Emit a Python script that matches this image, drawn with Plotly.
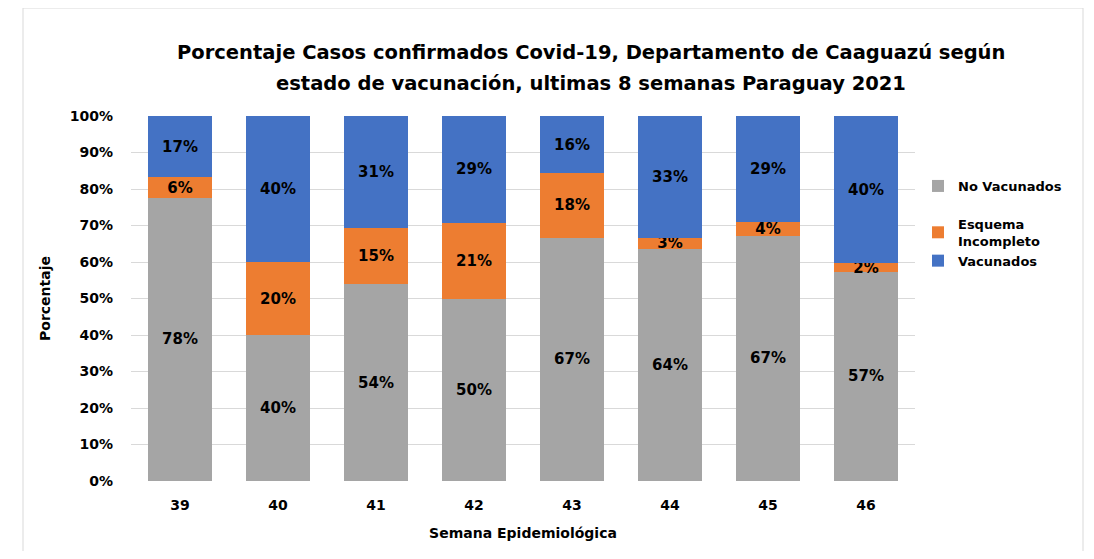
import plotly.graph_objects as go

semanas = ["39", "40", "41", "42", "43", "44", "45", "46"]
no_vacunados = [77.6, 40.0, 53.9, 49.9, 66.7, 63.7, 67.2, 57.3]
esquema_incompleto = [5.6, 20.0, 15.3, 20.8, 17.6, 2.9, 3.7, 2.3]
vacunados = [16.8, 40.0, 30.8, 29.3, 15.7, 33.4, 29.1, 40.4]

titulo_1 = "Porcentaje Casos confirmados Covid-19, Departamento de Caaguazú según"
titulo_2 = "estado de vacunación, ultimas 8 semanas Paraguay 2021"

FONT = "DejaVu Sans"
series = [
    ("No Vacunados", no_vacunados, "#A5A5A5", "g1"),
    ("Esquema<br>Incompleto", esquema_incompleto, "#ED7D31", "g2"),
    ("Vacunados", vacunados, "#4472C4", "g2"),
]

fig = go.Figure()
for name, vals, color, grp in series:
    fig.add_trace(go.Bar(
        x=semanas, y=vals, name=name, legendgroup=grp,
        marker=dict(color=color, line=dict(width=0)),
        texttemplate="%{y:.0f}%", textposition="inside",
        insidetextanchor="middle",
        textfont=dict(family=FONT, size=15, color="black", weight="bold"),
    ))

OFF = 8  # page body margin
W, H = 1094 - 2 * OFF, 559 - 2 * OFF
# plot area in page pixel coordinates
L, R, T, B = 131, 915, 116, 481
pw, ph = R - L, B - T

def px(x):
    return (x - L) / pw

def py(y):
    return (B - y) / ph

fig.update_layout(
    width=W, height=H,
    barmode="stack", bargap=0.34,
    paper_bgcolor="white", plot_bgcolor="white",
    margin=dict(l=L - OFF, r=W - (R - OFF), t=T - OFF, b=H - (B - OFF), autoexpand=False),
    font=dict(family=FONT, color="black", size=13),
    uniformtext=dict(minsize=15, mode="show"),
    xaxis=dict(
        title=dict(text="<b>Semana Epidemiológica</b>", font=dict(size=14), standoff=16),
        tickfont=dict(size=14, weight="bold"),
        ticklabelstandoff=14,
        showline=False, ticks="", showgrid=False,
    ),
    yaxis=dict(
        range=[0, 100], dtick=10, ticksuffix="%",
        tickfont=dict(size=14, weight="bold"),
        ticklabelstandoff=17,
        gridcolor="#D9D9D9", gridwidth=1, zeroline=False,
        title=dict(text="<b>Porcentaje</b>", font=dict(size=14), standoff=15),
        ticks="", ticklen=0,
    ),
    legend=dict(
        x=px(918), y=py(171), xanchor="left", yanchor="top",
        traceorder="grouped",
        font=dict(size=13, weight="bold"),
        itemwidth=30, tracegroupgap=18,
        bgcolor="rgba(0,0,0,0)",
    ),
    annotations=[
        dict(text="<b>" + titulo_1 + "</b>", xref="paper", yref="paper",
             x=px(591), y=py(53), xanchor="center", yanchor="middle",
             showarrow=False, font=dict(family=FONT, size=19.5, color="black")),
        dict(text="<b>" + titulo_2 + "</b>", xref="paper", yref="paper",
             x=px(591), y=py(83), xanchor="center", yanchor="middle",
             showarrow=False, font=dict(family=FONT, size=19.5, color="black")),
    ],
    shapes=[dict(
        type="rect", xref="paper", yref="paper",
        x0=px(23), x1=px(1083), y0=py(575), y1=py(8),
        line=dict(color="#D9D9D9", width=1), layer="below",
    )],
)

fig.write_html("out.html")
